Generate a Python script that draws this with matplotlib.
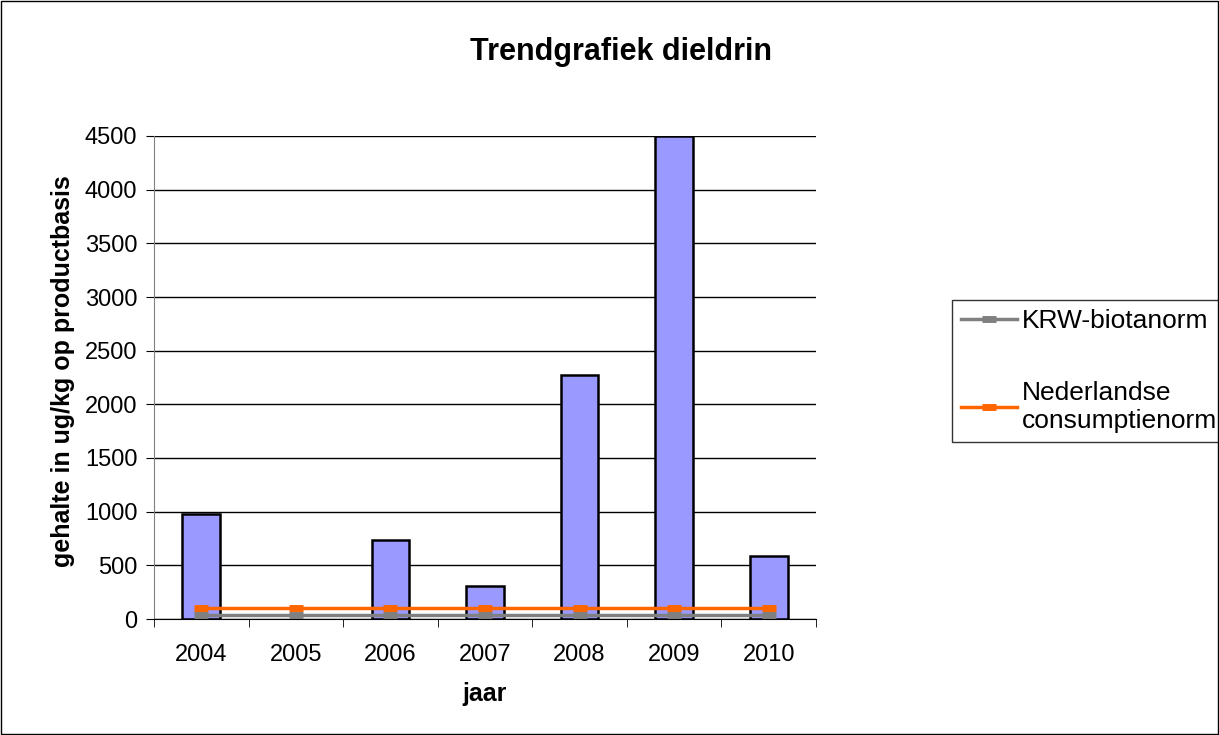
import matplotlib.pyplot as plt
import numpy as np

plt.rcParams['font.family'] = ['Liberation Sans', 'DejaVu Sans']

# data
years = ['2004', '2005', '2006', '2007', '2008', '2009', '2010']
dieldrin = [980, np.nan, 740, 305, 2270, 4500, 590]
krw_norm = [35, 35, 35, 35, 35, 35, 35]
nl_norm = [100, 100, 100, 100, 100, 100, 100]

fig = plt.figure(figsize=(12.19, 7.35), dpi=100)
fig.patches.append(plt.Rectangle((0.001, 0.001), 0.998, 0.997, transform=fig.transFigure,
                                 fill=False, edgecolor='black', linewidth=1))
ax = fig.add_axes([154 / 1219, 116 / 735, (816 - 154) / 1219, (619 - 136) / 735])

x = np.arange(len(years))
ax.bar(x, dieldrin, width=0.4, color='#9999ff', edgecolor='black', linewidth=1.8, zorder=2)
ax.plot(x, krw_norm, color='#808080', linewidth=2.5, marker='_', markersize=10,
        markeredgewidth=5, label='KRW-biotanorm', zorder=3)
ax.plot(x, nl_norm, color='#ff6600', linewidth=2.5, marker='_', markersize=10,
        markeredgewidth=5, label='Nederlandse\nconsumptienorm', zorder=3)

ax.set_xlim(-0.5, len(years) - 0.5)
ax.set_ylim(0, 4500)
ax.set_yticks(np.arange(0, 4501, 500))
ax.set_xticks(x)
ax.set_xticklabels(years)
ax.set_xticks(np.arange(-0.5, len(years), 1), minor=True)
ax.tick_params(axis='x', which='major', length=0, pad=18, labelsize=17)
ax.tick_params(axis='x', which='minor', length=6, color='black')
ax.tick_params(axis='y', length=6, labelsize=17, color='black', pad=6)
ax.yaxis.grid(True, color='black', linewidth=1, zorder=0)
ax.set_axisbelow(True)
for side in ['top', 'right']:
    ax.spines[side].set_visible(False)
ax.spines['left'].set_color('#808080')
ax.spines['bottom'].set_color('black')

ax.set_xlabel('jaar', fontsize=18, fontweight='bold')
ax.set_ylabel('gehalte in ug/kg op productbasis', fontsize=18, fontweight='bold')
ax.xaxis.set_label_coords(485 / 1219, 1 - 694 / 735, transform=fig.transFigure)
ax.yaxis.set_label_coords(63 / 1219, 1 - 371 / 735, transform=fig.transFigure)
ax.xaxis.label.set_va('center')
ax.yaxis.label.set_va('center')
fig.text(621 / 1219, 1 - 52 / 735, 'Trendgrafiek dieldrin', ha='center',
         va='center', fontsize=22, fontweight='bold')

leg = ax.legend(loc='upper left', bbox_to_anchor=(952 / 1219, 1 - 300 / 735),
                bbox_transform=fig.transFigure, fontsize=19, frameon=True, fancybox=False,
                edgecolor='black', handlelength=2.1, labelspacing=1.8, borderpad=0.35,
                handletextpad=0.2, borderaxespad=0, numpoints=1)
leg.get_frame().set_linewidth(1)

fig.savefig('out.png', dpi=100)
